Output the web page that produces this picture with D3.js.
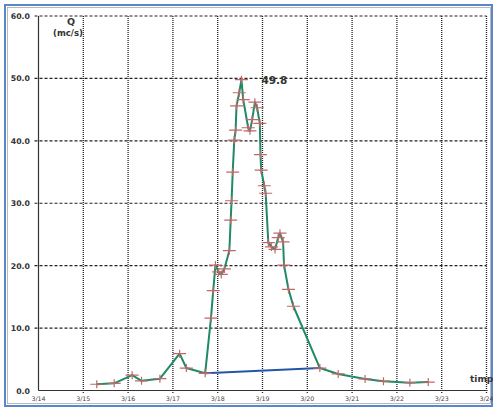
<!DOCTYPE html>
<html>
<head>
<meta charset="utf-8">
<script src="https://cdn.jsdelivr.net/npm/d3@7"></script>
<style>
  html, body { margin: 0; padding: 0; background: #fff; }
  svg { display: block; }
</style>
</head>
<body>
<svg id="chart" width="493" height="408"></svg>
<script>
// Hydrograph: discharge Q (mc/s) against time (day of March)
const dayTicks = [14, 15, 16, 17, 18, 19, 20, 21, 22, 23, 24];
const flowTicks = [0, 10, 20, 30, 40, 50, 60];

const day = [15.30, 15.69, 16.09, 16.30, 16.71, 17.15, 17.30, 17.72,
  17.85, 17.90, 17.95, 18.02, 18.08, 18.15, 18.26, 18.29, 18.31, 18.335,
  18.37, 18.40, 18.42, 18.48, 18.53, 18.57, 18.68, 18.72, 18.77, 18.83,
  18.88, 18.94, 18.955, 18.97, 19.04, 19.07, 19.13, 19.20, 19.28, 19.35,
  19.39, 19.46, 19.48, 19.58, 19.69, 20.28, 20.69, 21.29, 21.70, 22.29, 22.70];
const flow = [1.0, 1.15, 2.45, 1.55, 1.9, 5.9, 3.6, 2.75,
  11.6, 16.0, 20.1, 19.0, 18.6, 19.5, 22.4, 27.3, 30.4, 35.0,
  40.1, 41.7, 45.6, 47.7, 49.8, 46.6, 42.1, 41.6, 43.4, 46.2,
  45.3, 42.8, 37.8, 35.3, 32.8, 31.6, 23.7, 23.0, 22.6, 24.5,
  25.2, 23.8, 20.1, 16.2, 13.5, 3.6, 2.65, 1.85, 1.5, 1.25, 1.35];

// Baseflow separation line (start and end of the event)
const baseDay = [17.72, 20.28];
const baseFlow = [2.75, 3.6];

const peakValue = 49.8;

const svg = d3.select("#chart");

const x = d3.scaleLinear().domain([14, 24]).range([38.5, 486.5]);
const y = d3.scaleLinear().domain([0, 60]).range([390.5, 16]);

// Page frame
svg.append("rect").attr("x", 5).attr("y", 5).attr("width", 487).attr("height", 401)
  .attr("fill", "none").attr("stroke", "#5a86cc").attr("stroke-width", 2);
svg.append("rect").attr("x", 7.5).attr("y", 7.5).attr("width", 483).attr("height", 396)
  .attr("fill", "none").attr("stroke", "#aaa").attr("stroke-width", 0.8);

// Horizontal grid (dashed)
svg.append("g").selectAll("line")
  .data(flowTicks.filter(v => v > 0))
  .join("line")
  .attr("x1", x(14) - 4).attr("x2", x(24))
  .attr("y1", d => y(d)).attr("y2", d => y(d))
  .attr("stroke", "#222").attr("stroke-width", 1.1)
  .attr("stroke-dasharray", "3,2");

// Vertical grid (dotted)
svg.append("g").selectAll("line")
  .data(dayTicks.filter(d => d > 14))
  .join("line")
  .attr("x1", d => x(d)).attr("x2", d => x(d))
  .attr("y1", y(60)).attr("y2", y(0) + 3)
  .attr("stroke", "#222").attr("stroke-width", 1.3)
  .attr("stroke-dasharray", "1,1");

// Axes lines
svg.append("line").attr("x1", x(14)).attr("x2", x(14)).attr("y1", y(60)).attr("y2", y(0))
  .attr("stroke", "#333").attr("stroke-width", 1.2);
svg.append("line").attr("x1", x(14)).attr("x2", x(24) + 1).attr("y1", y(0)).attr("y2", y(0))
  .attr("stroke", "#333").attr("stroke-width", 1.2);

// Y tick labels
svg.append("g").selectAll("text")
  .data(flowTicks)
  .join("text")
  .attr("x", 30).attr("y", d => y(d) + 3)
  .attr("text-anchor", "end")
  .attr("font-family", "DejaVu Sans").attr("font-weight", "bold").attr("font-size", 7.8)
  .attr("fill", "#333")
  .text(d => d3.format(".1f")(d));

// X tick labels
svg.append("g").selectAll("text")
  .data(dayTicks)
  .join("text")
  .attr("x", d => x(d)).attr("y", y(0) + 10)
  .attr("text-anchor", "middle")
  .attr("font-family", "DejaVu Sans").attr("font-size", 6.3)
  .attr("fill", "#444")
  .text(d => "3/" + d);

// Axis titles
svg.append("text").attr("x", 71).attr("y", 25).attr("text-anchor", "middle")
  .attr("font-family", "DejaVu Sans").attr("font-weight", "bold").attr("font-size", 9.5)
  .attr("fill", "#333").text("Q");
svg.append("text").attr("x", 68).attr("y", 35.5).attr("text-anchor", "middle")
  .attr("font-family", "DejaVu Sans").attr("font-weight", "bold").attr("font-size", 8.5)
  .attr("fill", "#333").text("(mc/s)");
svg.append("text").attr("x", 470).attr("y", 382).attr("text-anchor", "start")
  .attr("font-family", "DejaVu Sans").attr("font-weight", "bold").attr("font-size", 9)
  .attr("fill", "#333").text("timp");

// Baseflow line
const baseData = baseDay.map((d, i) => [d, baseFlow[i]]);
svg.append("path").datum(baseData)
  .attr("d", d3.line().x(d => x(d[0])).y(d => y(d[1])))
  .attr("fill", "none").attr("stroke", "#2256a6").attr("stroke-width", 2);

// Hydrograph line
const data = day.map((d, i) => [d, flow[i]]);
svg.append("path").datum(data)
  .attr("d", d3.line().x(d => x(d[0])).y(d => y(d[1])))
  .attr("fill", "none").attr("stroke", "#1f8a66").attr("stroke-width", 2)
  .attr("stroke-linejoin", "round");

// Observation markers
const mk = svg.append("g").attr("stroke", "#c0686a").attr("stroke-width", 1.2);
mk.selectAll("path")
  .data(data)
  .join("path")
  .attr("d", d => {
    const cx = x(d[0]), cy = y(d[1]);
    return `M${cx - 6.5},${cy}H${cx + 6.5}M${cx},${cy - 4}V${cy + 4}`;
  });

// Peak label
const peakIdx = flow.indexOf(peakValue);
svg.append("text")
  .attr("x", x(day[peakIdx]) + 20).attr("y", y(peakValue) + 4)
  .attr("font-family", "DejaVu Sans").attr("font-weight", "bold").attr("font-size", 10.5)
  .attr("fill", "#333")
  .text(d3.format(".1f")(peakValue));
</script>
</body>
</html>
